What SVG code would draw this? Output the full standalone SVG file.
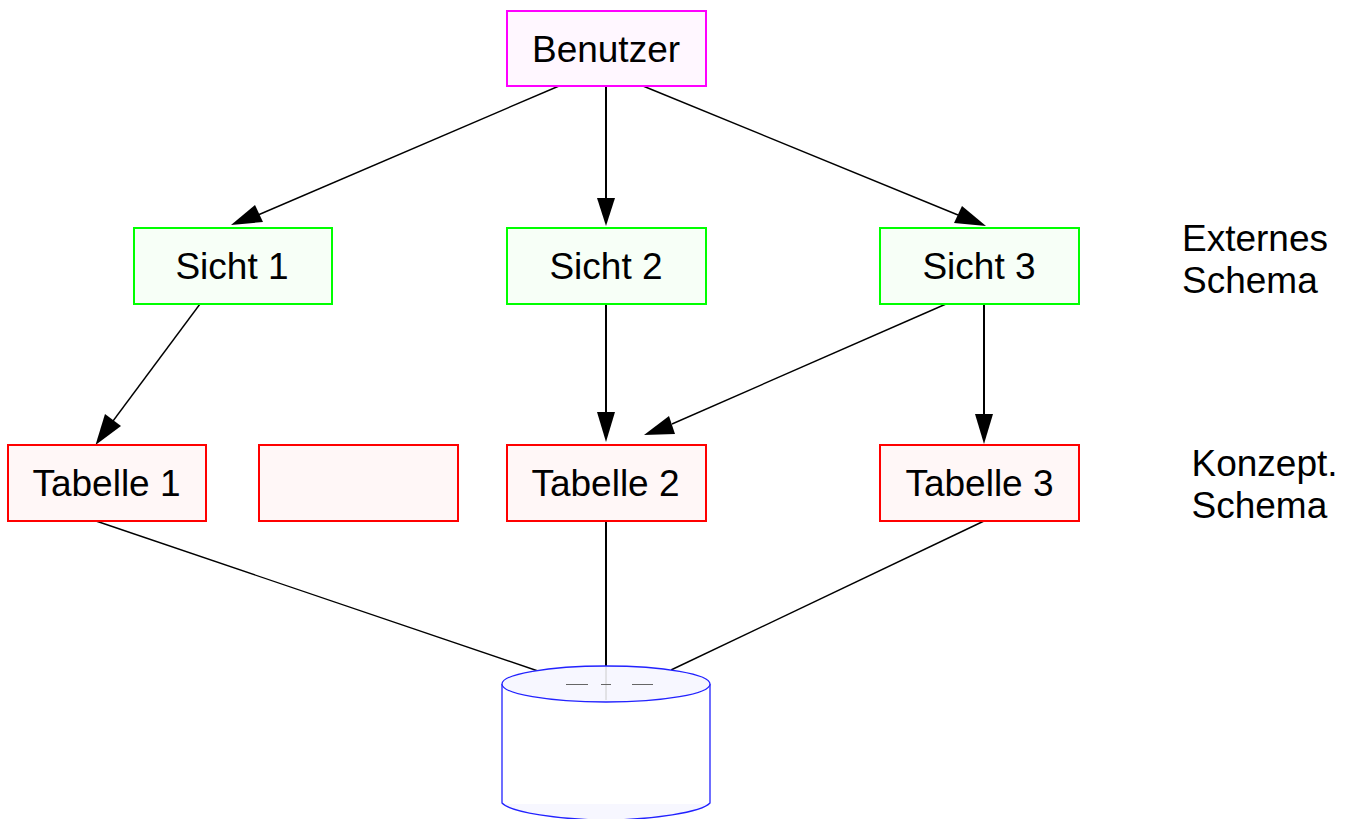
<svg xmlns="http://www.w3.org/2000/svg" width="1354" height="819" viewBox="0 0 1354 819">
<style>
text{font-family:"Liberation Sans",Arial,sans-serif;font-size:37px;fill:#000}
.c{text-anchor:middle}
.u{fill:#fff7ff;stroke:#f0f;stroke-width:2}
.s{fill:#f7fff7;stroke:#0f0;stroke-width:2}
.t{fill:#fff7f7;stroke:#f00;stroke-width:2}
.l{stroke:#000;stroke-width:1.4;fill:none}
.v{stroke:#000;stroke-width:2;fill:none}
.a{fill:#000;stroke:none}
.d{fill:#f7f7ff;stroke:#2222ff;stroke-width:1.3}
</style>
<rect width="1354" height="819" fill="#fff"/>
<g id="connectors">
<path class="l" d="M559 86L258 215"/><polygon class="a" points="231,225 255,205 263,222"/>
<path class="v" d="M606 86V198"/><polygon class="a" points="606,226 597,198 615,198"/>
<path class="l" d="M643 86L958 215"/><polygon class="a" points="986,226 962,206 954,223"/>
<path class="l" d="M200 304L113 421"/><polygon class="a" points="95.500,445 105,414 121,426"/>
<path class="v" d="M606 304V412"/><polygon class="a" points="606,442 597,412 615,412"/>
<path class="l" d="M946 304L672 424"/><polygon class="a" points="644,435 669,416 675,434"/>
<path class="v" d="M984 304V414"/><polygon class="a" points="984,444 975,414 993,414"/>
<path class="l" d="M96 521L538 671"/>
<path class="v" d="M606 521V666"/>
<path class="l" d="M984 521L671 670"/>
</g>
<g id="benutzer"><rect class="u" x="507" y="11" width="199" height="75"/><text class="c" x="606" y="62">Benutzer</text></g>
<g id="sicht1"><rect class="s" x="134" y="228" width="198" height="76"/><text class="c" x="232" y="279">Sicht 1</text></g>
<g id="sicht2"><rect class="s" x="507" y="228" width="199" height="76"/><text class="c" x="606" y="279">Sicht 2</text></g>
<g id="sicht3"><rect class="s" x="880" y="228" width="199" height="76"/><text class="c" x="979" y="279">Sicht 3</text></g>
<g id="tabelle1"><rect class="t" x="8" y="445" width="198" height="76"/><text class="c" x="106.500" y="496">Tabelle 1</text></g>
<g id="tabelle-leer"><rect class="t" x="259" y="445" width="199" height="76"/></g>
<g id="tabelle2"><rect class="t" x="507" y="445" width="199" height="76"/><text class="c" x="605.500" y="496">Tabelle 2</text></g>
<g id="tabelle3"><rect class="t" x="880" y="445" width="199" height="76"/><text class="c" x="979.500" y="496">Tabelle 3</text></g>
<g id="label-extern"><text x="1182" y="251">Externes</text><text x="1182" y="293">Schema</text></g>
<g id="label-konzept"><text x="1191.500" y="476">Konzept.</text><text x="1191.500" y="518">Schema</text></g>
<g id="datenbank">
<path d="M502 804C520 814 560 820 606 820C652 820 692 814 710 804Z" fill="#f7f7ff"/>
<path d="M502 684V803C510 812 560 820 606 820C652 820 702 812 710 803V684" fill="none" stroke="#2222ff" stroke-width="1.3"/>
<ellipse class="d" cx="606" cy="684" rx="104" ry="18"/>
<path d="M606 667V700" stroke="#ccc" stroke-width="1" fill="none"/>
<path d="M566 684.500H588M601 684.500H611M632 684.500H653" stroke="#666" stroke-width="1" fill="none"/>
</g>
</svg>
